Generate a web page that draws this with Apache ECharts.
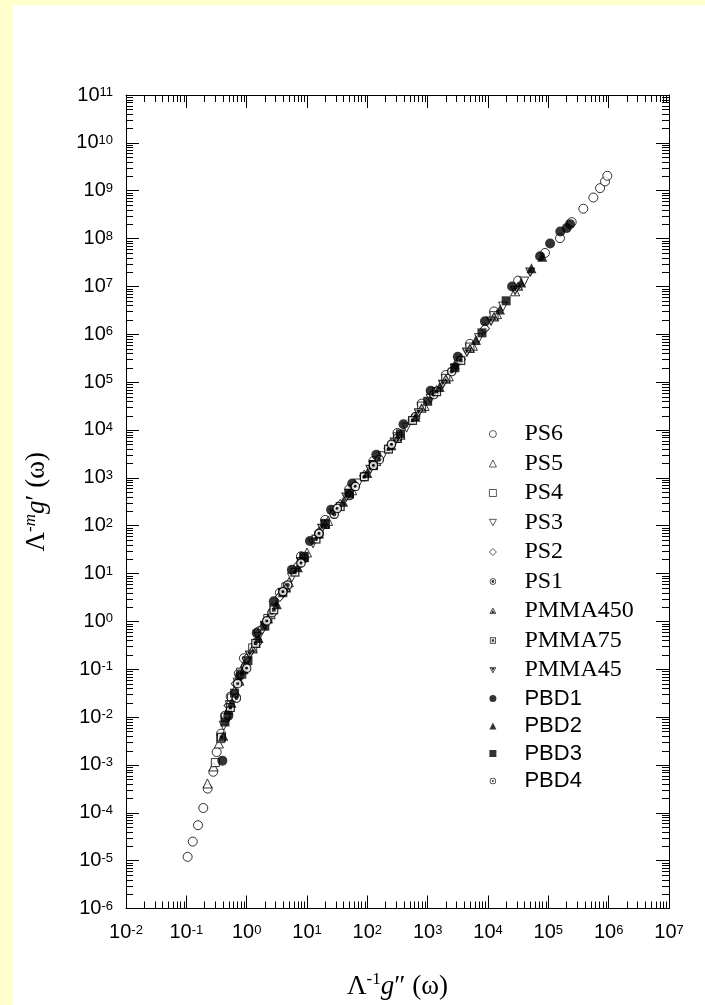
<!DOCTYPE html>
<html>
<head>
<meta charset="utf-8">
<script src="https://cdn.jsdelivr.net/npm/echarts@6.0.0/dist/echarts.min.js"></script>
<style>
html, body { margin: 0; padding: 0; background: #ffffcc; }
#chart { width: 705px; height: 1005px; }
</style>
</head>
<body>
<div id="chart"></div>
<script>
// data: [Λ^-1 g''(ω), Λ^-m g'(ω)]
var ps6 = [[0.105,1.2e-5],[0.128,2.5e-5],[0.156,5.5e-5],[0.191,1.26e-4],[0.226,3.2e-4],[0.28,7.2e-4],[0.318,1.86e-3],[0.376,4.5e-3],[0.436,0.0107],[0.543,0.027],[0.74,0.081],[0.9,0.17],
    [1.58,0.62],[3.55,3.98],[7.94,22.9],[20,132],[50,575],[126,2240],[316,8700],[794,3.55e4],[2000,1.41e5],[5010,6.3e5],[1.26e4,3.0e6],[3.16e4,1.32e7],
    [8.8e4,5.0e7],[1.56e5,1.02e8],[2.44e5,2.21e8],[3.8e5,4.2e8],[5.57e5,7.2e8],[7.2e5,1.13e9],[8.7e5,1.56e9],[9.5e5,2.05e9]];
var ps5 = [[0.224,4.1e-4],[0.282,9.3e-4],[0.347,2.8e-3],[0.468,0.012],[0.63,0.036],[0.89,0.12],[1.41,0.355],[2.51,1.41],[5.01,6.6],[10,27.5],[22.4,126],[56,550],[141,2240],[355,7940],[891,3.16e4],[2240,1.32e5],[5620,5.75e5],[1.41e4,2.63e6],[2.82e4,7.9e6]];
var ps4 = [[0.302,1.12e-3],[0.372,3.55e-3],[0.447,0.01],[0.562,0.025],[0.794,0.087],[1.26,0.28],[2.24,1.15],[4.47,5.25],[8.91,22.9],[20,107],[50,468],[126,1900],[316,7240],[794,3.16e4],[2000,1.2e5],[5010,5.4e5],[1.26e4,2.45e6]];
var ps3 = [[0.417,6.6e-3],[0.525,0.0178],[0.708,0.0525],[1.0,0.145],[1.58,0.47],[2.82,1.86],[5.62,8.3],[12.6,42.7],[28.2,178],[70.8,759],[178,2820],[447,1.12e4],[1120,4.47e4],[2820,1.9e5],[7080,8.3e5],[1.78e4,3.8e6],[3.98e4,1.26e7]];
var ps2 = [[0.5,0.0174],[0.66,0.05],[1.0,0.166],[1.78,0.69],[3.55,3.3],[7.08,14.8],[15.8,72],[35.5,275],[89,1120],[224,4170],[562,1.66e4],[1410,6.6e4],[3550,3.0e5],[8910,1.32e6]];
var ps1 = [[0.676,0.025],[0.955,0.112],[1.51,0.38],[2.63,1.51],[4.79,5.75],[8.91,20.9],[15.8,66],[28.2,174],[50.1,427],[89.1,1050],[158,2400],[316,6760],[631,1.9e4],[1260,5.5e4],[2510,1.66e5]];
var pmma450 = [[0.5,0.0141],[0.759,0.056],[1.26,0.263],[2.24,1.12],[4.47,5.0],[8.91,21.4],[20,105],[50.1,457],[126,1780],[316,6610],[794,2.82e4],[2000,1.15e5],[5010,5.0e5],[1.26e4,2.29e6],[3.16e4,1.0e7]];
var pmma75 = [[0.38,3.8e-3],[0.537,0.0158],[0.832,0.079],[1.41,0.347],[2.82,1.74],[6.31,10.7],[14.1,52.5],[35.5,251],[89.1,1050],[224,3980],[562,1.58e4],[1410,6.3e4],[3550,2.82e5]];
var pmma45 = [[1.12,0.2],[2.0,0.83],[3.98,3.98],[7.94,17.8],[17.8,89],[44.7,398],[112,1510],[282,5620],[708,2.29e4],[1780,9.1e4],[4470,4.27e5],[1.12e4,1.9e6],[2.82e4,8.3e6],[5.01e4,2.0e7]];
var pbd1 = [[0.395,1.23e-3],[0.497,0.0107],[0.776,0.074],[1.47,0.575],[2.82,2.63],[5.62,12.0],[11.2,47.9],[25.1,214],[56.2,759],[141,3020],[398,1.32e4],[1120,6.6e4],[3160,3.39e5],[8910,1.86e6],[2.51e4,1.0e7],[7.3e4,4.27e7],[1.07e5,7.9e7],[1.58e5,1.41e8],[2.02e5,1.66e8],[2.29e5,2.0e8]];
var pbd2 = [[0.41,4.07e-3],[0.562,0.02],[0.891,0.1],[1.58,0.447],[3.16,2.29],[7.08,13.5],[15.8,69],[39.8,316],[100,1260],[251,4790],[631,1.9e4],[1580,7.9e4],[2820,2.34e5],[6310,7.6e5],[1.58e4,3.3e6],[3.55e4,1.2e7],[5.25e4,2.4e7],[7.94e4,4.17e7]];
var pbd3 = [[0.437,7.9e-3],[0.63,0.0316],[1.05,0.151],[2.0,0.794],[3.98,3.98],[8.91,22.4],[20,112],[50.1,479],[126,1900],[355,8300],[1000,3.98e4],[2820,2.0e5],[7940,1.07e6],[2.0e4,5.0e6]];
var pbd4 = [[0.708,0.05],[1.0,0.105],[2.15,1.02],[3.98,4.17],[7.94,16.6],[15.8,69],[31.6,229],[63.1,661],[126,1820],[251,5010]];

var names = ['PS6','PS5','PS4','PS3','PS2','PS1','PMMA450','PMMA75','PMMA45','PBD1','PBD2','PBD3','PBD4'];

// axis extents (decades)
var xMin = 1e-2, xMax = 1e7;
var yMin = 1e-6, yMax = 1e11;

// 2..9 x 10^k minor tick positions
function minorTicks(lo, hi) {
    var out = [];
    for (var e = Math.round(Math.log10(lo)); e < Math.round(Math.log10(hi)); e++) {
        for (var m = 2; m <= 9; m++) out.push(m * Math.pow(10, e));
    }
    return out;
}
var xMinor = minorTicks(xMin, xMax);
var yMinor = minorTicks(yMin, yMax);

// compound marker glyphs as small svg images
function svgSym(body) {
    return 'image://data:image/svg+xml;charset=utf-8,' + encodeURIComponent(
        '<svg xmlns="http://www.w3.org/2000/svg" width="40" height="40" viewBox="0 0 20 20">' + body + '</svg>');
}
var ST = ' stroke="#000" stroke-width="2.6" ';
var circO = '<circle cx="10" cy="10" r="8.5" fill="#fff"' + ST + '/>';
var triO = '<polygon points="10,1.8 18.6,17.6 1.4,17.6" fill="#fff"' + ST + '/>';
var sqO = '<rect x="2.2" y="2.2" width="15.6" height="15.6" fill="#fff"' + ST + '/>';
var itriO = '<polygon points="1.4,2.4 18.6,2.4 10,18.2" fill="#fff"' + ST + '/>';

var INV_TRI = 'path://M0,0L10,0L5,9Z';
var OPEN = { color: '#fff', borderColor: '#000', borderWidth: 1 };
var FILL = { color: '#000', borderWidth: 0 };
var STYLE = {
    PS6: { symbol: 'circle', size: 9, item: OPEN },
    PS5: { symbol: 'triangle', size: 9, item: OPEN },
    PS4: { symbol: 'rect', size: 8, item: OPEN },
    PS3: { symbol: INV_TRI, size: 9, item: OPEN },
    PS2: { symbol: 'diamond', size: [9, 10], item: OPEN },
    PS1: { symbol: svgSym(circO + '<circle cx="10" cy="10" r="4" fill="#000"/>'), size: 10 },
    PMMA450: { symbol: svgSym(triO + '<polygon points="10,7.2 14.8,15.6 5.2,15.6" fill="#000"/>'), size: 10 },
    PMMA75: { symbol: svgSym(sqO + '<rect x="6.6" y="6.6" width="6.8" height="6.8" fill="#000"/>'), size: 10 },
    PMMA45: { symbol: svgSym(itriO + '<polygon points="5.2,4.4 14.8,4.4 10,12.8" fill="#000"/>'), size: 10 },
    PBD1: { symbol: 'circle', size: 10, item: FILL },
    PBD2: { symbol: 'triangle', size: 10, item: FILL },
    PBD3: { symbol: 'rect', size: 9, item: FILL },
    PBD4: { symbol: svgSym(circO + '<circle cx="10" cy="10" r="2.8" fill="#000"/>'), size: 10 }
};
var DATA = { PS6: ps6, PS5: ps5, PS4: ps4, PS3: ps3, PS2: ps2, PS1: ps1, PMMA450: pmma450, PMMA75: pmma75, PMMA45: pmma45, PBD1: pbd1, PBD2: pbd2, PBD3: pbd3, PBD4: pbd4 };

var SANS = 'Liberation Sans, Arial, sans-serif';
var SERIF = 'Liberation Serif, Times New Roman, serif';

function expLabel(v) {
    var e = Math.round(Math.log10(v));
    return '{b|10}{s|' + e + '}';
}
var labelRich = {
    b: { fontFamily: SANS, fontSize: 20, lineHeight: 22, color: '#000' },
    s: { fontFamily: SANS, fontSize: 13, lineHeight: 13, verticalAlign: 'top', padding: [2, 0, 0, 0], color: '#000' }
};
var nameRich = {
    a: { fontFamily: SERIF, fontSize: 27, lineHeight: 30, color: '#000' },
    s: { fontFamily: SERIF, fontSize: 17, lineHeight: 17, verticalAlign: 'top', color: '#000' },
    m: { fontFamily: SERIF, fontSize: 17, lineHeight: 17, verticalAlign: 'top', fontStyle: 'italic', color: '#000' },
    i: { fontFamily: SERIF, fontSize: 27, lineHeight: 30, fontStyle: 'italic', color: '#000' }
};

function logAxis(pos, min, max, withLabels) {
    var ax = {
        type: 'log', logBase: 10, position: pos, min: min, max: max, interval: 1,
        axisLine: { show: true, onZero: false, lineStyle: { color: '#000', width: 1 } },
        axisTick: { show: true, inside: true, length: 13, lineStyle: { color: '#000', width: 1 } },
        splitLine: { show: false },
        axisLabel: { show: withLabels, interval: 0, margin: 13, formatter: expLabel, rich: labelRich }
    };
    return ax;
}

var xBottom = logAxis('bottom', xMin, xMax, true);
xBottom.name = '{a|Λ}{s|-1}{i|g}{a|″ (ω)}';
xBottom.nameLocation = 'middle';
xBottom.nameGap = 63;
xBottom.nameTextStyle = { rich: nameRich };
var yLeft = logAxis('left', yMin, yMax, true);
yLeft.name = '{a|Λ}{s|-}{m|m}{i|g}{a|′ (ω)}';
yLeft.nameLocation = 'middle';
yLeft.nameGap = 74;
yLeft.nameTextStyle = { rich: nameRich };

var series = names.map(function (n) {
    var st = STYLE[n];
    var s = {
        name: n, type: 'scatter', data: DATA[n], symbol: st.symbol, symbolSize: st.size,
        xAxisIndex: 0, yAxisIndex: 0, animation: false, silent: true
    };
    if (st.item) s.itemStyle = st.item;
    return s;
});

// minor ticks on all four sides
function tickLine(x1, y1, x2, y2) {
    return { type: 'line', shape: { x1: x1, y1: y1, x2: x2, y2: y2 }, style: { stroke: '#000', lineWidth: 1 } };
}
series.push({
    type: 'custom', xAxisIndex: 0, yAxisIndex: 0, silent: true, animation: false, z: 3,
    data: xMinor.map(function (v) { return [v, 1]; }),
    renderItem: function (params, api) {
        var cs = params.coordSys;
        var x = Math.round(api.coord([api.value(0), 1])[0]) + 0.5;
        return { type: 'group', children: [
            tickLine(x, cs.y + cs.height, x, cs.y + cs.height - 7),
            tickLine(x, cs.y, x, cs.y + 7)
        ] };
    }
});
series.push({
    type: 'custom', xAxisIndex: 0, yAxisIndex: 0, silent: true, animation: false, z: 3,
    data: yMinor.map(function (v) { return [1, v]; }),
    renderItem: function (params, api) {
        var cs = params.coordSys;
        var y = Math.round(api.coord([1, api.value(1)])[1]) + 0.5;
        return { type: 'group', children: [
            tickLine(cs.x, y, cs.x + 7, y),
            tickLine(cs.x + cs.width, y, cs.x + cs.width - 7, y)
        ] };
    }
});

var legendData = names.map(function (n) {
    var item = { name: n };
    if (n.indexOf('PBD') === 0) item.textStyle = { fontFamily: SANS, fontSize: 22 };
    return item;
});

var chart = echarts.init(document.getElementById('chart'));
chart.setOption({
    backgroundColor: '#ffffcc',
    animation: false,
    graphic: [{
        type: 'rect', left: 13, top: 5, z: -10, silent: true,
        shape: { width: 692, height: 1000 }, style: { fill: '#fff' }
    }],
    grid: { left: 126, top: 95, right: 36, bottom: 95, containLabel: false },
    xAxis: [xBottom, logAxis('top', xMin, xMax, false)],
    yAxis: [yLeft, logAxis('right', yMin, yMax, false)],
    legend: {
        orient: 'vertical', left: 484, top: 417, itemWidth: 7, itemHeight: 7, itemGap: 5.5,
        selectedMode: false,
        itemStyle: { borderWidth: 0.8 },
        textStyle: { fontFamily: SERIF, fontSize: 24, lineHeight: 20, color: '#000', padding: [0, 0, 0, 23] },
        data: legendData
    },
    series: series
});
</script>
</body>
</html>
